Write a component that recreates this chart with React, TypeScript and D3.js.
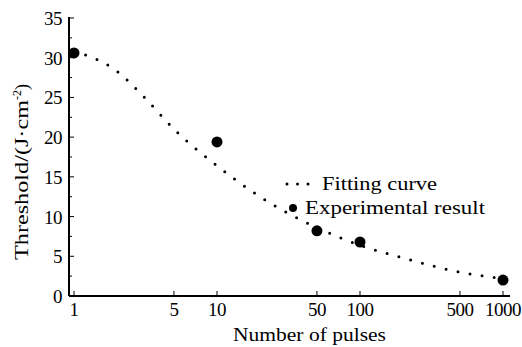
import React, { useEffect, useRef } from "react";
import * as d3 from "d3";

// experimental points
const pulses = [1, 10, 50, 100, 1000];
const thresholds = [30.6, 19.4, 8.2, 6.8, 2.0];

// fitting curve
const fitPulses = [1, 2, 3, 5, 10, 20, 50, 100, 200, 500, 1000];
const fitValues = [30.8, 28.3, 25.3, 21.0, 16.4, 12.5, 8.6, 6.4, 4.8, 3.0, 2.2];

const xTicks = [1, 5, 10, 50, 100, 500, 1000];
const yTicks = [0, 5, 10, 15, 20, 25, 30, 35];

export default function App() {
  const ref = useRef<SVGSVGElement>(null);

  useEffect(() => {
    const svg = d3.select(ref.current);
    svg.selectAll("*").remove();
    const font = "Liberation Serif";

    const x = d3.scaleLog().domain([1, 1000]).range([74, 503]);
    const y = d3.scaleLinear().domain([0, 35]).range([296, 18]);
    const x0 = 69;

    const g = svg.append("g").attr("font-family", font);

    // axes lines
    g.append("line")
      .attr("x1", x0).attr("x2", x0)
      .attr("y1", y(35) - 1).attr("y2", y(0))
      .attr("stroke", "#000").attr("stroke-width", 2);
    g.append("line")
      .attr("x1", x0).attr("x2", 510)
      .attr("y1", y(0)).attr("y2", y(0))
      .attr("stroke", "#000").attr("stroke-width", 2);

    // y ticks (major + minor, pointing inward)
    d3.range(0, 35.01, 2.5).forEach((v) => {
      const major = v % 5 === 0;
      g.append("line")
        .attr("x1", x0).attr("x2", x0 + (major ? 5 : 3))
        .attr("y1", y(v)).attr("y2", y(v))
        .attr("stroke", "#000").attr("stroke-width", 1);
    });
    g.selectAll(".ylab")
      .data(yTicks)
      .enter()
      .append("text")
      .attr("x", 62)
      .attr("y", (d) => y(d) + 7)
      .attr("text-anchor", "end")
      .attr("font-size", 19)
      .attr("letter-spacing", -0.5)
      .text((d) => d);

    // x ticks
    xTicks.forEach((v) => {
      g.append("line")
        .attr("x1", x(v)).attr("x2", x(v))
        .attr("y1", y(0)).attr("y2", y(0) - 5)
        .attr("stroke", "#000").attr("stroke-width", 1);
    });
    g.selectAll(".xlab")
      .data(xTicks)
      .enter()
      .append("text")
      .attr("x", (d) => x(d))
      .attr("y", 316)
      .attr("text-anchor", "middle")
      .attr("font-size", 19)
      .attr("letter-spacing", -0.5)
      .text((d) => d);

    // axis titles
    g.append("text")
      .attr("x", 233).attr("y", 341)
      .attr("font-size", 18)
      .attr("textLength", 153)
      .attr("lengthAdjust", "spacingAndGlyphs")
      .text("Number of pulses");

    const yt = g.append("text")
      .attr("transform", "translate(28,260) rotate(-90)")
      .attr("font-size", 18);
    yt.append("tspan")
      .attr("textLength", 160)
      .attr("lengthAdjust", "spacingAndGlyphs")
      .text("Threshold/(J·cm");
    yt.append("tspan").attr("dy", -7).attr("font-size", 12).text("-2");
    yt.append("tspan").attr("dy", 7).text(")");

    // fitting curve
    const line = d3
      .line<number>()
      .x((d, i) => x(fitPulses[i]))
      .y((d) => y(d))
      .curve(d3.curveMonotoneX);
    g.append("path")
      .attr("d", line(fitValues))
      .attr("fill", "none")
      .attr("stroke", "#000")
      .attr("stroke-width", 3)
      .attr("stroke-linecap", "round")
      .attr("stroke-dasharray", "0 12.2");

    // experimental points
    g.selectAll(".pt")
      .data(thresholds)
      .enter()
      .append("circle")
      .attr("cx", (d, i) => x(pulses[i]))
      .attr("cy", (d) => y(d))
      .attr("r", 5.5)
      .attr("fill", "#000");

    // legend
    g.append("line")
      .attr("x1", 287).attr("x2", 310)
      .attr("y1", 184).attr("y2", 184)
      .attr("stroke", "#000")
      .attr("stroke-width", 3)
      .attr("stroke-linecap", "round")
      .attr("stroke-dasharray", "0 10.5");
    g.append("text")
      .attr("x", 322).attr("y", 190)
      .attr("font-size", 18)
      .attr("textLength", 115)
      .attr("lengthAdjust", "spacingAndGlyphs")
      .text("Fitting curve");
    g.append("circle")
      .attr("cx", 293).attr("cy", 208)
      .attr("r", 4)
      .attr("fill", "#000");
    g.append("text")
      .attr("x", 305).attr("y", 214)
      .attr("font-size", 18)
      .attr("textLength", 180)
      .attr("lengthAdjust", "spacingAndGlyphs")
      .text("Experimental result");
  }, []);

  return (
    <svg
      ref={ref}
      width={522}
      height={347}
      style={{ position: "absolute", left: 0, top: 0, background: "#fff" }}
    />
  );
}
